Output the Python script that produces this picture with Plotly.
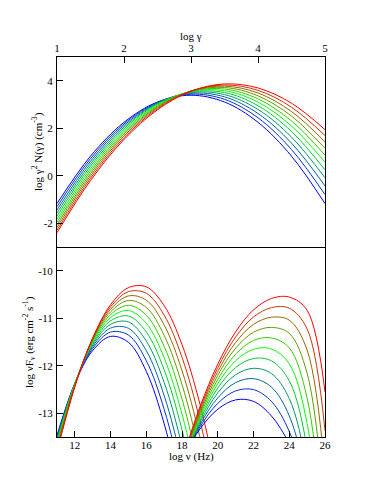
import plotly.graph_objects as go

# ---------------- data ----------------
log_gamma = [1, 1.5, 2, 2.5, 3, 3.5, 4, 4.5, 5]
electron_curves = [
    [-1.170, 0.825, 2.250, 3.105, 3.390, 3.105, 2.250, 0.825, -1.170],
    [-1.304, 0.721, 2.186, 3.090, 3.434, 3.218, 2.441, 1.104, -0.793],
    [-1.441, 0.613, 2.117, 3.069, 3.471, 3.323, 2.623, 1.373, -0.428],
    [-1.571, 0.509, 2.048, 3.045, 3.502, 3.418, 2.792, 1.626, -0.082],
    [-1.698, 0.405, 1.977, 3.017, 3.526, 3.504, 2.950, 1.865, 0.249],
    [-1.828, 0.298, 1.902, 2.984, 3.544, 3.583, 3.100, 2.095, 0.568],
    [-1.949, 0.195, 1.828, 2.948, 3.557, 3.653, 3.237, 2.309, 0.869],
    [-2.067, 0.094, 1.754, 2.910, 3.564, 3.716, 3.365, 2.512, 1.157],
    [-2.181, -0.005, 1.679, 2.869, 3.567, 3.772, 3.484, 2.704, 1.430],
    [-2.295, -0.105, 1.601, 2.825, 3.565, 3.822, 3.596, 2.886, 1.694],
    [-2.399, -0.200, 1.527, 2.780, 3.559, 3.865, 3.697, 3.056, 1.942],
]

sync_nu = [11, 12, 13, 14, 15, 16, 17, 18, 19, 20]
sync_curves = [
    [-13.461, -12.372, -11.679, -11.382, -11.508, -12.120, -13.223, -14.815, -16.898, -19.47],
    [-13.493, -12.369, -11.635, -11.291, -11.355, -11.896, -12.920, -14.428, -16.420, -18.89],
    [-13.527, -12.369, -11.596, -11.207, -11.212, -11.683, -12.631, -14.056, -15.958, -18.34],
    [-13.561, -12.372, -11.561, -11.128, -11.078, -11.481, -12.353, -13.697, -15.511, -17.80],
    [-13.597, -12.377, -11.530, -11.055, -10.953, -11.289, -12.088, -13.352, -15.081, -17.27],
    [-13.633, -12.385, -11.503, -10.987, -10.837, -11.107, -11.835, -13.022, -14.666, -16.77],
    [-13.669, -12.394, -11.479, -10.923, -10.728, -10.935, -11.594, -12.704, -14.265, -16.28],
    [-13.705, -12.404, -11.458, -10.865, -10.626, -10.773, -11.363, -12.399, -13.879, -15.81],
    [-13.740, -12.416, -11.439, -10.811, -10.530, -10.620, -11.144, -12.106, -13.508, -15.35],
    [-13.775, -12.428, -11.423, -10.761, -10.440, -10.475, -10.935, -11.826, -13.150, -14.91],
    [-13.809, -12.441, -11.410, -10.714, -10.355, -10.339, -10.736, -11.558, -12.806, -14.48],
]

ic_nu = [18, 19, 20, 21, 22, 23, 24, 25, 26]
ic_curves = [
    [-13.968, -13.332, -12.915, -12.718, -12.750, -13.056, -13.640, -14.501, -15.641],
    [-14.015, -13.286, -12.791, -12.529, -12.503, -12.750, -13.385, -14.648, -16.90],
    [-14.044, -13.240, -12.676, -12.354, -12.272, -12.449, -13.055, -14.513, -17.49],
    [-14.060, -13.193, -12.570, -12.190, -12.054, -12.163, -12.691, -14.184, -17.57],
    [-14.067, -13.147, -12.470, -12.037, -11.848, -11.896, -12.319, -13.734, -17.27],
    [-14.066, -13.100, -12.376, -11.893, -11.653, -11.647, -11.960, -13.219, -16.69],
    [-14.059, -13.053, -12.286, -11.758, -11.468, -11.414, -11.625, -12.684, -15.95],
    [-14.046, -13.006, -12.201, -11.630, -11.294, -11.193, -11.318, -12.160, -15.105],
    [-14.029, -12.959, -12.120, -11.509, -11.129, -10.979, -11.041, -11.670, -14.229],
    [-14.010, -12.913, -12.041, -11.394, -10.973, -10.777, -10.788, -11.225, -13.366],
    [-13.986, -12.866, -11.965, -11.285, -10.824, -10.584, -10.554, -10.832, -12.550],
]

curve_colors = ['#0000ff', '#0033cc', '#006699', '#009966', '#00cc33', '#00ff00',
                '#33cc00', '#669900', '#996600', '#cc3300', '#ff0000']

gamma_ticks = [1, 2, 3, 4, 5]
gamma_ticktext = ['1', '2', '3', '4', '5']
n_ticks = [-2, 0, 2, 4]
n_ticktext = ['-2', '0', '2', '4']
nu_ticks = [12, 14, 16, 18, 20, 22, 24, 26]
nu_ticktext = ['12', '14', '16', '18', '20', '22', '24', '26']
f_ticks = [-13, -12, -11, -10]
f_ticktext = ['-13', '-12', '-11', '-10']

# ---------------- figure ----------------
FONT = 'Liberation Serif, Times New Roman, DejaVu Serif, serif'
fig = go.Figure()

for ys, col in zip(electron_curves, curve_colors):
    fig.add_trace(go.Scatter(x=log_gamma, y=ys, mode='lines', xaxis='x2', yaxis='y2',
                             line=dict(color=col, width=1, shape='spline'),
                             showlegend=False, hoverinfo='skip'))
for ys, col in zip(sync_curves, curve_colors):
    fig.add_trace(go.Scatter(x=sync_nu, y=ys, mode='lines', xaxis='x', yaxis='y',
                             line=dict(color=col, width=1, shape='spline'),
                             showlegend=False, hoverinfo='skip'))
for ys, col in zip(ic_curves, curve_colors):
    fig.add_trace(go.Scatter(x=ic_nu, y=ys, mode='lines', xaxis='x', yaxis='y',
                             line=dict(color=col, width=1, shape='spline'),
                             showlegend=False, hoverinfo='skip'))

axis_common = dict(showline=True, linecolor='black', linewidth=1,
                   ticks='inside', ticklen=6, tickwidth=1, tickcolor='black',
                   showgrid=False, zeroline=False, automargin=False,
                   tickfont=dict(family=FONT, size=11, color='black'))

# the page body adds an 8 px offset, so the figure is 8 px smaller on each axis
fig.update_layout(
    width=375, height=487,
    margin=dict(l=49, r=58, t=49, b=58, autoexpand=False),
    paper_bgcolor='white', plot_bgcolor='white',
    showlegend=False,
    xaxis=dict(domain=[0, 1], anchor='y', range=[11, 26], tickmode='array', mirror=False,
               tickvals=nu_ticks, ticktext=nu_ticktext, ticklabelstandoff=-2, **axis_common),
    yaxis=dict(domain=[0, 0.5], anchor='x', range=[-13.5, -9.5], tickmode='array', mirror=True,
               tickvals=f_ticks, ticktext=f_ticktext, ticklabelstandoff=1, **axis_common),
    xaxis2=dict(domain=[0, 1], anchor='y2', side='top', range=[1, 5], tickmode='array', mirror=True,
                tickvals=gamma_ticks, ticktext=gamma_ticktext, **axis_common),
    yaxis2=dict(domain=[0.5, 1], anchor='x2', range=[-3, 5], tickmode='array', mirror=True,
                tickvals=n_ticks, ticktext=n_ticktext, ticklabelstandoff=1, **axis_common),
)

title_font = dict(family=FONT, size=11, color='black')
fig.add_annotation(text='log γ', xref='paper', yref='paper', x=0.5, y=1.054,
                   xanchor='center', yanchor='middle', showarrow=False, font=title_font)
fig.add_annotation(text='log ν (Hz)', xref='paper', yref='paper', x=0.5, y=-0.05,
                   xanchor='center', yanchor='middle', showarrow=False, font=title_font)
fig.add_annotation(text='log γ<sup>2</sup> N(γ) (cm<sup>-3</sup>)', xref='paper', yref='paper',
                   x=-0.0746, y=0.75, textangle=-90,
                   xanchor='center', yanchor='middle', showarrow=False, font=title_font)
fig.add_annotation(text='log νF<sub>ν</sub> (erg cm<sup>-2</sup> s<sup>-1</sup>)', xref='paper',
                   yref='paper', x=-0.1045, y=0.25, textangle=-90,
                   xanchor='center', yanchor='middle', showarrow=False, font=title_font)

fig.write_html('out.html')
